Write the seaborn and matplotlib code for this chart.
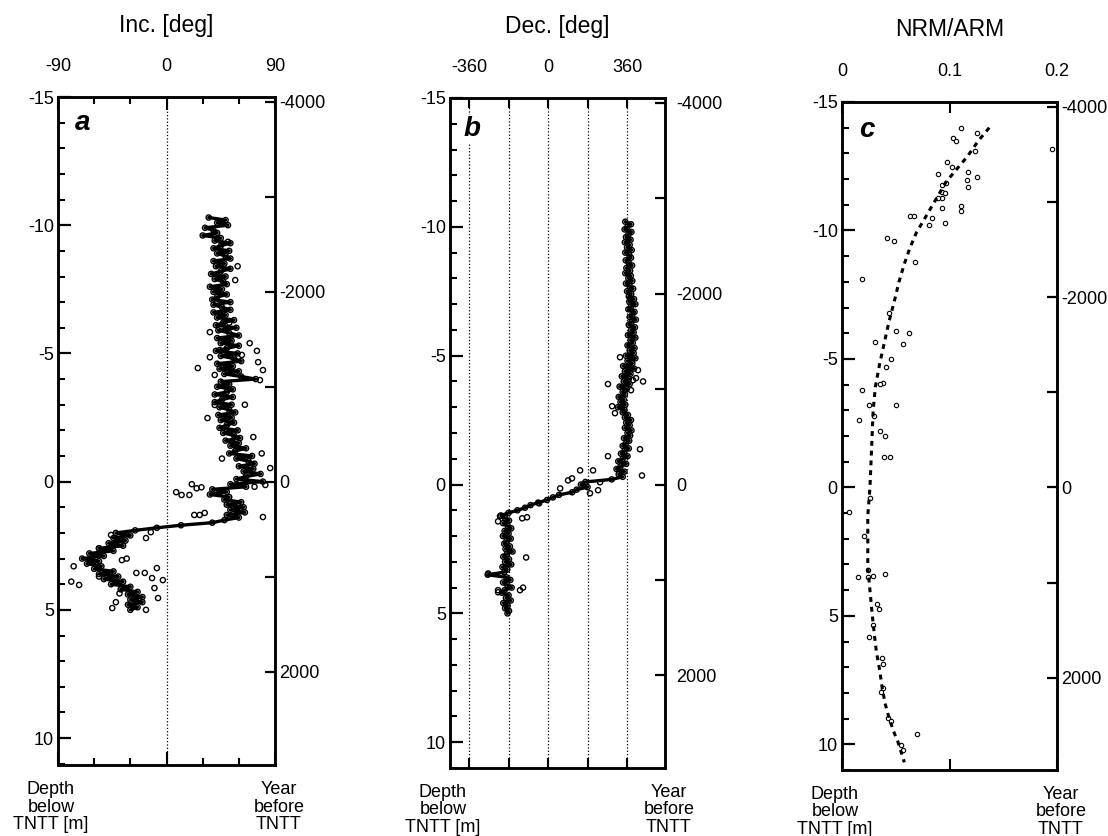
import seaborn as sns
import matplotlib.pyplot as plt
from matplotlib.ticker import MultipleLocator

sns.set_theme(style='ticks')
plt.rcParams['font.family'] = ['Liberation Sans', 'DejaVu Sans']
plt.rcParams['axes.unicode_minus'] = False
plt.rcParams['text.color'] = 'black'
plt.rcParams['xtick.color'] = 'black'
plt.rcParams['ytick.color'] = 'black'
plt.rcParams['axes.edgecolor'] = 'black'

###Panel a - inclination, main run of samples (depth in m, inc in deg)
depth_a = [-10.3, -10.2, -10.1, -10.0, -9.9, -9.8, -9.7, -9.6, -9.5, -9.4,
           -9.3, -9.2, -9.1, -9.0, -8.9, -8.8, -8.7, -8.6, -8.5, -8.4,
           -8.3, -8.2, -8.1, -8.0, -7.9, -7.8, -7.7, -7.6, -7.5, -7.4,
           -7.3, -7.2, -7.1, -7.0, -6.9, -6.8, -6.7, -6.6, -6.5, -6.4,
           -6.3, -6.2, -6.1, -6.0, -5.9, -5.8, -5.7, -5.6, -5.5, -5.4,
           -5.3, -5.2, -5.1, -5.0, -4.9, -4.8, -4.7, -4.6, -4.5, -4.4,
           -4.3, -4.2, -4.1, -4.0, -3.9, -3.8, -3.7, -3.6, -3.5, -3.4,
           -3.3, -3.2, -3.1, -3.0, -2.9, -2.8, -2.7, -2.6, -2.5, -2.4,
           -2.3, -2.2, -2.1, -2.0, -1.9, -1.8, -1.7, -1.6, -1.5, -1.4,
           -1.3, -1.2, -1.1, -1.0, -0.9, -0.8, -0.7, -0.6, -0.5, -0.4,
           -0.3, -0.2, -0.1, 0.0, 0.1, 0.2, 0.3, 0.4, 0.5, 0.6,
           0.7, 0.8, 0.9, 1.0, 1.1, 1.2, 1.3, 1.4, 1.5, 1.6,
           1.7, 1.8, 1.9, 2.0, 2.1, 2.2, 2.3, 2.4, 2.5, 2.6,
           2.7, 2.8, 2.9, 3.0, 3.1, 3.2, 3.3, 3.4, 3.5, 3.6,
           3.7, 3.8, 3.9, 4.0, 4.1, 4.2, 4.3, 4.4, 4.5, 4.6,
           4.7, 4.8, 4.9, 5.0]
inc_a = [35, 49, 42, 51, 32, 39, 42, 30, 45, 40,
         53, 45, 39, 52, 42, 49, 53, 39, 48, 41,
         53, 45, 37, 49, 40, 47, 50, 36, 46, 39,
         50, 42, 38, 53, 39, 46, 53, 39, 49, 42,
         56, 47, 41, 58, 43, 52, 60, 42, 54, 45,
         60, 50, 41, 59, 45, 56, 62, 42, 55, 44,
         60, 48, 62, 74, 45, 52, 42, 55, 50, 40,
         55, 46, 40, 54, 44, 52, 57, 43, 54, 45,
         56, 50, 44, 59, 47, 56, 61, 49, 60, 53,
         66, 57, 52, 71, 58, 68, 73, 60, 72, 64,
         78, 66, 58, 80, 53, 66, 38, 50, 36, 52,
         48, 62, 50, 64, 53, 65, 50, 60, 48, 38,
         12, -8, -26, -42, -30, -44, -34, -48, -36, -56,
         -44, -64, -52, -70, -56, -66, -54, -60, -44, -56,
         -40, -52, -36, -46, -30, -38, -24, -32, -20, -30,
         -20, -32, -24, -30]
#scattered samples off the main run
depth_a_out = [0.41, 0.52, 0.1, 0.26, 0.22, 0.52, 1.3, 1.3, 1.22, 1.38,
               -0.53, 0.13, 0.2, -1.74, -2.48, -2.99, -3.0, -1.1, -0.9,
               3.9, 4.03, 3.3, 3.7, 3.56, 3.56, 3.37, 3.76, 3.84, 4.54,
               4.15, 1.97, 2.2, 2.08, 2.6, 3.06, 3.0, 4.36, 5.0, 4.93, 4.7,
               -4.43, -4.35, -5.1, -5.83, -6.2, -8.4, -7.86, -9.35, -4.85,
               -5.4, -4.66, -3.96, -4.94, -5.13, -4.16]
inc_a_out = [8, 12.5, 21, 25, 29, 19, 23, 27.5, 31.7, 80,
             86, 82, 73, 72, 34, 40, 65, 79, 46,
             -79, -72.5, -77, -56, -18, -25, -8, -12, -3, -7,
             -10, -13, -17, -46, -56, -37, -33, -39, -17, -45, -42,
             26, 80, 75, 36, 52, 59, 57, 51, 36,
             69, 76, 77.5, 62.5, 44, 40]

###Panel b - declination
depth_b = [-10.2, -10.1, -10.0, -9.9, -9.8, -9.7, -9.6, -9.5, -9.4, -9.3,
           -9.2, -9.1, -9.0, -8.9, -8.8, -8.7, -8.6, -8.5, -8.4, -8.3,
           -8.2, -8.1, -8.0, -7.9, -7.8, -7.7, -7.6, -7.5, -7.4, -7.3,
           -7.2, -7.1, -7.0, -6.9, -6.8, -6.7, -6.6, -6.5, -6.4, -6.3,
           -6.2, -6.1, -6.0, -5.9, -5.8, -5.7, -5.6, -5.5, -5.4, -5.3,
           -5.2, -5.1, -5.0, -4.9, -4.8, -4.7, -4.6, -4.5, -4.4, -4.3,
           -4.2, -4.1, -4.0, -3.9, -3.8, -3.7, -3.6, -3.5, -3.4, -3.3,
           -3.2, -3.1, -3.0, -2.9, -2.8, -2.7, -2.6, -2.5, -2.4, -2.3,
           -2.2, -2.1, -2.0, -1.9, -1.8, -1.7, -1.6, -1.5, -1.4, -1.3,
           -1.2, -1.1, -1.0, -0.9, -0.8, -0.7, -0.6, -0.5, -0.4, -0.3,
           -0.2, -0.1, 0.0, 0.1, 0.2, 0.3, 0.4, 0.5, 0.6, 0.7,
           0.8, 0.9, 1.0, 1.1, 1.2, 1.3, 1.4, 1.5, 1.6, 1.7,
           1.8, 1.9, 2.0, 2.1, 2.2, 2.3, 2.4, 2.5, 2.6, 2.7,
           2.8, 2.9, 3.0, 3.1, 3.2, 3.3, 3.4, 3.5, 3.6, 3.7,
           3.8, 3.9, 4.0, 4.1, 4.2, 4.3, 4.4, 4.5, 4.6, 4.7,
           4.8, 4.9, 5.0]
dec_b = [352, 378, 362, 349, 380, 366, 355, 376, 350, 372,
         360, 381, 352, 370, 378, 354, 368, 383, 357, 374,
         352, 377, 366, 384, 355, 372, 388, 360, 379, 368,
         392, 370, 398, 378, 366, 394, 384, 372, 400, 380,
         368, 396, 378, 390, 364, 398, 376, 386, 362, 394,
         372, 390, 355, 398, 362, 384, 342, 392, 350, 376,
         336, 368, 345, 372, 326, 358, 340, 350, 322, 345,
         330, 352, 318, 348, 340, 364, 350, 378, 356, 372,
         350, 380, 362, 374, 346, 370, 355, 340, 368, 348,
         332, 362, 340, 320, 356, 330, 312, 348, 322, 340,
         290, 170, 150, 180, 130, 110, 50, 22, -5, -45,
         -80, -105, -140, -180, -215, -196, -178, -205, -184, -168,
         -198, -180, -206, -170, -190, -200, -174, -194, -162, -188,
         -204, -178, -196, -168, -208, -186, -200, -275, -190, -172,
         -205, -186, -166, -198, -210, -180, -192, -170, -204, -184,
         -196, -178, -185]
depth_b_out = [-3.9, -4.05, -4.0, -4.44, -3.04, -2.77, -1.1, -1.37, -0.35, -0.55,
               -0.24, -0.16, 0.15, -0.55, -0.09, 0.22, 0.34, 0.73, 1.43, 1.23,
               1.27, 1.31, 2.83, 3.45, 4.1, 4.1, 4.0, 4.18, -3.66, -4.13,
               -4.94, -4.5]
dec_b_out = [273, 387, 433, 410, 292, 305, 273, 419, 428, 146,
             109, 91, 55, 205, 237, 228, 191, -41, -228, -219,
             -96, -118, -100, -273, -228, -128, -114, -228, 378, 401,
             328, 365]

###Panel c - NRM/ARM samples and the fitted trend
depth_c = [-13.99, -13.6, -13.48, -13.78, -13.1, -13.17, -12.67, -12.47, -12.2, -12.28,
           -11.97, -12.08, -11.69, -11.77, -11.86, -11.5, -11.47, -11.27, -11.25, -10.88,
           -10.96, -10.77, -10.58, -10.58, -10.47, -10.2, -10.28, -9.7, -9.6, -8.77,
           -8.1, -6.78, -6.1, -6.0, -5.67, -5.6, -5.0, -4.7, -4.08, -4.04,
           -3.8, -3.22, -3.22, -2.79, -2.64, -2.2, -2.0, -1.2, -1.2, 0.4,
           0.94, 1.91, 3.23, 3.5, 3.5, 3.43, 3.39, 4.52, 4.75, 5.37,
           5.84, 6.66, 6.89, 7.82, 7.97, 8.99, 9.1, 9.6, 10.04, 10.23]
ratio_c = [0.111, 0.103, 0.106, 0.126, 0.124, 0.195, 0.098, 0.102, 0.089, 0.117,
           0.116, 0.126, 0.117, 0.093, 0.097, 0.093, 0.096, 0.093, 0.089, 0.093,
           0.111, 0.111, 0.063, 0.067, 0.084, 0.081, 0.096, 0.042, 0.048, 0.068,
           0.019, 0.044, 0.050, 0.062, 0.031, 0.057, 0.046, 0.041, 0.038, 0.035,
           0.019, 0.025, 0.050, 0.030, 0.016, 0.035, 0.040, 0.039, 0.045, 0.026,
           0.0065, 0.020, 0.024, 0.015, 0.024, 0.029, 0.040, 0.033, 0.034, 0.029,
           0.025, 0.037, 0.038, 0.038, 0.036, 0.043, 0.046, 0.070, 0.055, 0.057]
depth_fit = [-14.0, -13.5, -12.9, -12.4, -11.9, -11.4, -10.9, -10.4, -9.9, -9.3,
             -8.7, -8.0, -7.3, -6.5, -5.75, -4.8, -3.9, -3.0, -2.0, -1.0,
             0.0, 1.1, 2.0, 3.1, 4.0, 4.9, 5.7, 6.4, 7.1, 7.7,
             8.4, 9.0, 9.5, 9.9, 10.3, 10.7]
ratio_fit = [0.137, 0.127, 0.117, 0.107, 0.097, 0.090, 0.083, 0.076, 0.069, 0.063,
             0.058, 0.053, 0.049, 0.044, 0.040, 0.035, 0.031, 0.029, 0.028, 0.027,
             0.026, 0.024, 0.024, 0.024, 0.026, 0.028, 0.030, 0.032, 0.035, 0.037,
             0.040, 0.044, 0.048, 0.052, 0.055, 0.058]

#age axis: years before TNTT per metre of depth
yr_per_m = 270
year_ticks = [-4000, -3000, -2000, -1000, 0, 1000, 2000]
year_labels = ['-4000', '', '-2000', '', '0', '', '2000']
depth_ticks = [-15, -10, -5, 0, 5, 10]
depth_labels = ['-15', '-10', '-5', '0', '5', '10']

PX = 72 / 100.0  # pixels -> points

fig = plt.figure(figsize=(11.08, 8.36), dpi=100)

def make_panel(rect, xlim, xticks, xlabels, xminor, xlen, ylow, title, letter, rpad, let_off):
    ax = fig.add_axes(rect)
    ax.set_xlim(*xlim)
    ax.set_ylim(ylow, -15)
    ax.set_xticks(xticks, xlabels)
    if xminor:
        ax.set_xticks(xminor, minor=True)
    ax.set_yticks(depth_ticks, depth_labels)
    ax.yaxis.set_minor_locator(MultipleLocator(1))
    ax.tick_params(axis='x', which='major', direction='in', top=True, bottom=True,
                   labeltop=True, labelbottom=False, length=xlen, width=1.5,
                   labelsize=13, pad=15.5, colors='black')
    ax.tick_params(axis='x', which='minor', direction='in', top=True, bottom=True,
                   length=5, width=1.5)
    ax.tick_params(axis='y', which='major', direction='in', left=True, right=False,
                   length=9.5, width=1.6, labelsize=13, pad=3, colors='black')
    ax.tick_params(axis='y', which='minor', direction='in', left=True, right=False,
                   length=5, width=1.5)
    for s in ax.spines.values():
        s.set_linewidth(1.8)
        s.set_color('black')
    axr = ax.twinx()
    axr.set_ylim(ylow * yr_per_m, -15 * yr_per_m)
    axr.set_yticks(year_ticks, year_labels)
    axr.tick_params(axis='y', direction='in', length=7, width=1.6, labelsize=13,
                    pad=rpad, colors='black')
    for s in axr.spines.values():
        s.set_linewidth(1.8)
        s.set_color('black')
    ax.annotate(title, xy=(0.5, 1), xycoords='axes fraction', xytext=(0, 72 * PX),
                textcoords='offset points', ha='center', va='center', fontsize=16.5,
                color='black')
    ax.annotate(letter, xy=(0, 1), xycoords='axes fraction', xytext=let_off,
                textcoords='offset points', ha='center', va='baseline', fontsize=20,
                fontweight='bold', fontstyle='italic', zorder=6, color='black',
                bbox=dict(facecolor='white', edgecolor='none', pad=1))
    ax.annotate('Depth\nbelow\nTNTT [m]', xy=(0, 0), xycoords='axes fraction',
                xytext=(-7 * PX, -42 * PX), textcoords='offset points', ha='center',
                va='center', fontsize=13, linespacing=1.05, annotation_clip=False,
                color='black')
    ax.annotate('Year\nbefore\nTNTT', xy=(1, 0), xycoords='axes fraction',
                xytext=(4 * PX, -42 * PX), textcoords='offset points', ha='center',
                va='center', fontsize=13, linespacing=1.05, annotation_clip=False,
                color='black')
    return ax

#open circles, no fill, so the dense runs read dark like the original
circle_kw = dict(s=14, color='black', facecolor='none', edgecolor='black',
                 linewidth=1.0, zorder=3, legend=False)

#Panel a
ax = make_panel([58 / 1108, 1 - 765 / 836, 217 / 1108, 668 / 836], (-90, 90),
                [-90, 0, 90], ['-90', '0', '90'], [-60, -30, 30, 60], 9.5, 11.05,
                'Inc. [deg]', 'a', 3, (25 * PX, -33 * PX))
ax.axvline(0, color='black', ls=':', lw=0.9, zorder=1)
sns.lineplot(x=inc_a, y=depth_a, ax=ax, sort=False, estimator=None,
             color='black', linewidth=2.4, zorder=2)
sns.scatterplot(x=inc_a_out, y=depth_a_out, ax=ax, **circle_kw)
sns.scatterplot(x=inc_a, y=depth_a, ax=ax, **circle_kw)
ax.set_xlabel('')
ax.set_ylabel('')

#Panel b
ax = make_panel([450 / 1108, 1 - 768 / 836, 215 / 1108, 670 / 836], (-447, 533),
                [-360, -180, 0, 180, 360], ['-360', '', '0', '', '360'], None, 7.5, 11.0,
                'Dec. [deg]', 'b', 8, (22 * PX, -38 * PX))
for xv in [-360, -180, 0, 180, 360]:
    ax.axvline(xv, color='black', ls=':', lw=0.9, zorder=1)
sns.lineplot(x=dec_b, y=depth_b, ax=ax, sort=False, estimator=None,
             color='black', linewidth=2.4, zorder=2)
sns.scatterplot(x=dec_b_out, y=depth_b_out, ax=ax, **circle_kw)
sns.scatterplot(x=dec_b, y=depth_b, ax=ax, **circle_kw)
ax.set_xlabel('')
ax.set_ylabel('')

#Panel c
ax = make_panel([842 / 1108, 1 - 770 / 836, 215 / 1108, 668 / 836], (0, 0.2),
                [0, 0.1, 0.2], ['0', '0.1', '0.2'], None, 8, 11.0,
                'NRM/ARM', 'c', 3, (25 * PX, -35 * PX))
sns.lineplot(x=ratio_fit, y=depth_fit, ax=ax, sort=False, estimator=None,
             color='black', linewidth=2.2, linestyle=(0, (1.6, 1.6)), zorder=4)
sns.scatterplot(x=ratio_c, y=depth_c, ax=ax, s=10, color='black', facecolor='white',
                edgecolor='black', linewidth=0.8, zorder=3, legend=False)
ax.set_xlabel('')
ax.set_ylabel('')

plt.savefig('out.png', dpi=100)
